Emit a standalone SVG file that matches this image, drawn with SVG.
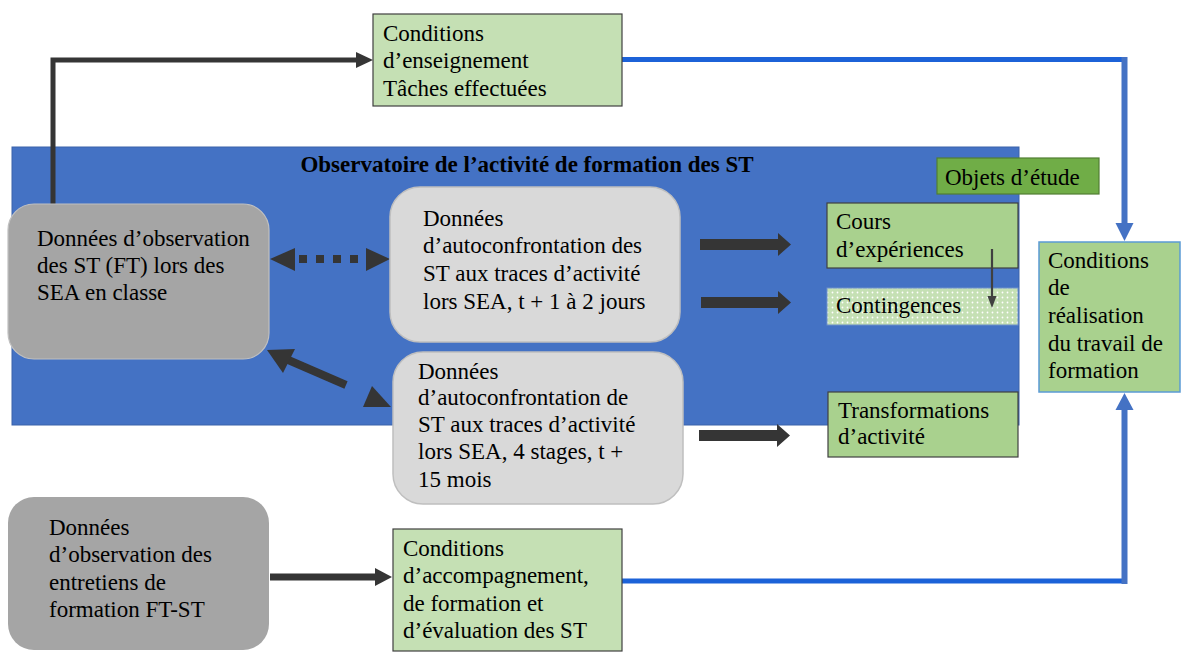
<svg xmlns="http://www.w3.org/2000/svg" width="1181" height="664" viewBox="0 0 1181 664" font-family="'Liberation Serif', 'Times New Roman', 'DejaVu Serif', serif">
  <defs>
    <style>
      text { font-family: 'Liberation Serif', 'Times New Roman', 'DejaVu Serif', serif; }
      .t { font-size: 23px; fill: #000; }
      .title { font-size: 23px; font-weight: bold; fill: #000; }
      .dark { fill: #a5a5a5; }
      .light { fill: #d9d9d9; stroke: #bfbfbf; stroke-width: 1.5; }
      .pale { fill: #c5e0b4; stroke: #404040; stroke-width: 1.2; }
      .mid { fill: #a9d18e; stroke: #404040; stroke-width: 1.2; }
      .blk { stroke: #353535; fill: none; }
      .head { fill: #353535; }
      .blue-h { stroke: #1c62d8; stroke-width: 5; fill: none; }
      .blue-v { stroke: #4472c4; stroke-width: 6; fill: none; }
      .blue-head { fill: #4472c4; }
    </style>
    <pattern id="dots" width="5" height="5" patternUnits="userSpaceOnUse">
      <rect width="5" height="5" fill="#c5e0b4"/>
      <circle cx="2.5" cy="2.5" r="0.9" fill="#ffffff"/>
    </pattern>
  </defs>

  <rect width="1181" height="664" fill="#ffffff"/>

  <!-- observatory panel -->
  <g id="panel">
    <rect x="12" y="147" width="1007" height="278" fill="#4472c4" stroke="#3a62aa" stroke-width="1"/>
    <text class="title" x="527" y="172" text-anchor="middle">Observatoire de l’activité de formation des ST</text>
  </g>

  <!-- connectors -->
  <g id="connectors">
    <!-- observation data to teaching conditions -->
    <polyline class="blk" stroke-width="5" points="53,204 53,60 358,60"/>
    <polygon class="head" points="356,52 373,60 356,68"/>

    <!-- dotted two-way link -->
    <polygon class="head" points="270,259 295,248 295,271"/>
    <polygon class="head" points="390,259 366,248 366,271"/>
    <g class="head">
      <rect x="299" y="255" width="8" height="8"/>
      <rect x="316" y="255" width="8" height="8"/>
      <rect x="333" y="255" width="8" height="8"/>
      <rect x="350" y="255" width="8" height="8"/>
    </g>

    <!-- two-way link to long-term self-confrontation -->
    <line class="blk" stroke-width="8" x1="286" y1="359" x2="346" y2="385"/>
    <polygon class="head" points="267,350 295,349 283,373"/>
    <polygon class="head" points="372,386 363,407 391,407"/>

    <!-- block arrows to study objects -->
    <polygon class="head" points="700,239 778,239 778,233 791,244.5 778,256 778,250 700,250"/>
    <polygon class="head" points="701,297 778,297 778,291 791,302.5 778,314 778,308 701,308"/>
    <polygon class="head" points="699,430 777,430 777,424 790,435.5 777,447 777,441 699,441"/>

    <!-- interview data to supervision conditions -->
    <line class="blk" stroke-width="7" x1="270" y1="577" x2="377" y2="577"/>
    <polygon class="head" points="375,568 392,577 375,586"/>

    <!-- blue links into the realisation conditions -->
    <polyline class="blue-h" points="622,59.5 1124,59.5"/>
    <polyline class="blue-v" points="1124.5,57 1124.5,224"/>
    <polygon class="blue-head" points="1115.5,223 1133.5,223 1124.5,241"/>

    <polyline class="blue-h" points="622,581 1124,581"/>
    <polyline class="blue-v" points="1124.5,584 1124.5,409"/>
    <polygon class="blue-head" points="1115.5,410 1133.5,410 1124.5,393"/>
  </g>

  <!-- nodes -->
  <g id="cond-enseignement">
    <rect class="pale" x="373" y="14" width="249" height="92"/>
    <text class="t" x="383" y="41">Conditions</text>
    <text class="t" x="383" y="68">d’enseignement</text>
    <text class="t" x="383" y="96">Tâches effectuées</text>
  </g>

  <g id="obs-classe">
    <rect class="dark" x="8" y="204" width="261" height="155" rx="26" stroke="#c0c0c0" stroke-width="1.2"/>
    <text class="t" x="37" y="246">Données d’observation</text>
    <text class="t" x="37" y="273">des ST (FT) lors des</text>
    <text class="t" x="37" y="300">SEA en classe</text>
  </g>

  <g id="autoconf-court">
    <rect class="light" x="390" y="187" width="290" height="155" rx="30"/>
    <text class="t" x="423" y="226">Données</text>
    <text class="t" x="423" y="253">d’autoconfrontation des</text>
    <text class="t" x="423" y="281">ST aux traces d’activité</text>
    <text class="t" x="423" y="309">lors SEA, t + 1 à 2 jours</text>
  </g>

  <g id="autoconf-long">
    <rect class="light" x="393" y="352" width="290" height="152" rx="30"/>
    <text class="t" x="418" y="379">Données</text>
    <text class="t" x="418" y="405">d’autoconfrontation de</text>
    <text class="t" x="418" y="432">ST aux traces d’activité</text>
    <text class="t" x="418" y="459">lors SEA, 4 stages, t +</text>
    <text class="t" x="418" y="487">15 mois</text>
  </g>

  <g id="objets-etude">
    <rect x="937" y="158" width="162" height="36" fill="#70ad47" stroke="#507e32" stroke-width="1.2"/>
    <text class="t" x="945" y="185">Objets d’étude</text>
  </g>

  <g id="cours-experiences">
    <rect class="mid" x="827" y="203" width="191" height="65"/>
    <text class="t" x="836" y="229">Cours</text>
    <text class="t" x="836" y="257">d’expériences</text>
  </g>

  <g id="contingences">
    <rect x="827" y="288" width="191" height="37" fill="url(#dots)" stroke="#6d8fc9" stroke-width="1"/>
    <text class="t" x="836" y="313">Contingences</text>
  </g>

  <!-- experience course to contingencies, drawn over both boxes -->
  <g id="connector-cours-contingences">
    <line x1="992" y1="249" x2="992" y2="298" stroke="#404040" stroke-width="2.2"/>
    <polygon fill="#404040" points="987.5,296 996.5,296 992,308"/>
  </g>

  <g id="transformations">
    <rect class="mid" x="828" y="392" width="190" height="65"/>
    <text class="t" x="838" y="418">Transformations</text>
    <text class="t" x="838" y="444">d’activité</text>
  </g>

  <g id="cond-realisation">
    <rect x="1039" y="242" width="141" height="150" fill="#a9d18e" stroke="#5b9bd5" stroke-width="1.5"/>
    <text class="t" x="1048" y="268">Conditions</text>
    <text class="t" x="1048" y="295">de</text>
    <text class="t" x="1048" y="323">réalisation</text>
    <text class="t" x="1048" y="351">du travail de</text>
    <text class="t" x="1048" y="378">formation</text>
  </g>

  <g id="obs-entretiens">
    <rect class="dark" x="8" y="497" width="261" height="153" rx="26"/>
    <text class="t" x="49" y="535">Données</text>
    <text class="t" x="49" y="562">d’observation des</text>
    <text class="t" x="49" y="590">entretiens de</text>
    <text class="t" x="49" y="617">formation FT-ST</text>
  </g>

  <g id="cond-accompagnement">
    <rect class="pale" x="393" y="529" width="229" height="122"/>
    <text class="t" x="403" y="556">Conditions</text>
    <text class="t" x="403" y="583">d’accompagnement,</text>
    <text class="t" x="403" y="611">de formation et</text>
    <text class="t" x="403" y="638">d’évaluation des ST</text>
  </g>
</svg>
